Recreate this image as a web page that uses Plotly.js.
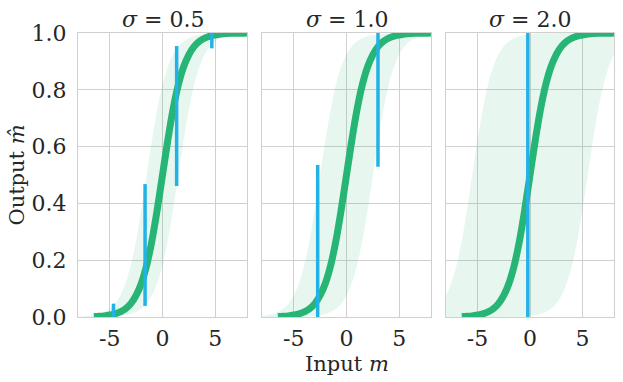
<!DOCTYPE html>
<html>
<head>
<meta charset="utf-8">
<script src="https://cdn.plot.ly/plotly-3.0.1.min.js"></script>
<style>
  html, body { margin: 0; padding: 0; background: #ffffff; }
  #chart { width: 623px; height: 382px; }
</style>
</head>
<body>
<div id="chart"></div>
<script>
// ---- data ----
const panelTitles = ["<i>σ</i> = 0.5", "<i>σ</i> = 1.0", "<i>σ</i> = 2.0"];
const xTitle = "Input <i>m</i>";
const yTitle = "Output <i>m\u0302</i>";

// green mean curve (same in every panel)
const curveX = [-6.5,-6,-5.5,-5,-4.5,-4,-3.5,-3,-2.5,-2,-1.5,-1,-0.5,0,0.5,1,1.5,2,2.5,3,3.5,4,4.5,5,5.5,6,6.5,7,7.5,8,8.5,9];
const curveY = [0.0015,0.0025,0.004,0.007,0.011,0.018,0.029,0.047,0.076,0.119,0.182,0.269,0.378,0.5,0.622,0.731,0.818,0.881,0.924,0.953,0.971,0.982,0.989,0.993,0.996,0.998,0.999,0.999,0.999,1.0,1.0,1.0];

// shaded band
const bandX = [-8,-7.5,-7,-6.5,-6,-5.5,-5,-4.5,-4,-3.5,-3,-2.5,-2,-1.5,-1,-0.5,0,0.5,1,1.5,2,2.5,3,3.5,4,4.5,5,5.5,6,6.5,7,7.5,8];
const bandUpper1 = [0.001,0.002,0.004,0.007,0.011,0.018,0.029,0.047,0.076,0.119,0.182,0.269,0.378,0.5,0.622,0.731,0.818,0.881,0.924,0.953,0.971,0.982,0.989,0.993,0.996,0.998,0.999,0.999,0.999,1.0,1.0,1.0,1.0];
const bandLower1 = [0,0,0,0,0.001,0.001,0.001,0.002,0.004,0.007,0.011,0.018,0.029,0.047,0.076,0.119,0.182,0.269,0.378,0.5,0.622,0.731,0.818,0.881,0.924,0.953,0.971,0.982,0.989,0.993,0.996,0.998,0.999];
const bandUpper2 = [0.004,0.007,0.011,0.018,0.029,0.047,0.076,0.119,0.182,0.269,0.378,0.5,0.622,0.731,0.818,0.881,0.924,0.953,0.971,0.982,0.989,0.993,0.996,0.998,0.999,0.999,0.999,1.0,1.0,1.0,1.0,1.0,1.0];
const bandLower2 = [0,0,0,0,0,0,0.001,0.001,0.001,0.002,0.004,0.007,0.011,0.018,0.029,0.047,0.076,0.119,0.182,0.269,0.378,0.5,0.622,0.731,0.818,0.881,0.924,0.953,0.971,0.982,0.989,0.993,0.996];
const bandUpper3 = [0.076,0.119,0.182,0.269,0.378,0.5,0.622,0.731,0.818,0.881,0.924,0.953,0.971,0.982,0.989,0.993,0.996,0.998,0.999,0.999,0.999,1.0,1.0,1.0,1.0,1.0,1.0,1.0,1.0,1.0,1.0,1.0,1.0];
const bandLower3 = [0,0,0,0,0,0,0,0,0,0,0,0,0.001,0.001,0.001,0.002,0.004,0.007,0.011,0.018,0.029,0.047,0.076,0.119,0.182,0.269,0.378,0.5,0.622,0.731,0.818,0.881,0.924];

// blue vertical segments: position, bottom, top
const segX1 = [-4.64, -1.65, 1.34, 4.67];
const segLo1 = [0.0, 0.039, 0.461, 0.946];
const segHi1 = [0.047, 0.468, 0.954, 1.0];
const segX2 = [-2.73, 2.98];
const segLo2 = [0.0, 0.529];
const segHi2 = [0.535, 1.0];
const segX3 = [-0.21];
const segLo3 = [0.0];
const segHi3 = [1.0];

const xTickVals = [-5, 0, 5];
const xTickText = ["-5", "0", "5"];
const yTickVals = [0, 0.2, 0.4, 0.6, 0.8, 1.0];
const yTickText = ["0.0", "0.2", "0.4", "0.6", "0.8", "1.0"];

// ---- styling ----
const GREEN = "#26b574";
const BLUE = "#22b2e6";
const BAND = "rgba(38,181,116,0.11)";
const GRID = "#d0d0d0";
const FONT = "DejaVu Serif, serif";
const TXT = "#262626";

function segTrace(xs, lo, hi, xa, ya) {
  const x = [], y = [];
  for (let i = 0; i < xs.length; i++) {
    x.push(xs[i], xs[i], null);
    y.push(lo[i], hi[i], null);
  }
  return {x, y, xaxis: xa, yaxis: ya, mode: "lines", type: "scatter",
          line: {color: BLUE, width: 3.5}, hoverinfo: "skip", showlegend: false};
}

const bands = [[bandLower1, bandUpper1], [bandLower2, bandUpper2], [bandLower3, bandUpper3]];
const segs = [[segX1, segLo1, segHi1], [segX2, segLo2, segHi2], [segX3, segLo3, segHi3]];
const traces = [];
for (let p = 0; p < 3; p++) {
  const xa = p === 0 ? "x" : "x" + (p + 1);
  const ya = p === 0 ? "y" : "y" + (p + 1);
  traces.push({x: bandX, y: bands[p][0], xaxis: xa, yaxis: ya, mode: "lines", type: "scatter",
               line: {width: 0, shape: "spline", color: "rgba(0,0,0,0)"}, hoverinfo: "skip", showlegend: false});
  traces.push({x: bandX, y: bands[p][1], xaxis: xa, yaxis: ya, mode: "lines", type: "scatter",
               fill: "tonexty", fillcolor: BAND,
               line: {width: 0, shape: "spline", color: "rgba(0,0,0,0)"}, hoverinfo: "skip", showlegend: false});
  traces.push({x: curveX, y: curveY, xaxis: xa, yaxis: ya, mode: "lines", type: "scatter",
               line: {color: GREEN, width: 7, shape: "spline"}, hoverinfo: "skip", showlegend: false});
  traces.push(segTrace(segs[p][0], segs[p][1], segs[p][2], xa, ya));
}

const doms = [[0, 0.3153], [0.3433, 0.6586], [0.6866, 1]];
function xaxis(i) {
  return {
    domain: doms[i], range: [-8, 8], anchor: i === 0 ? "y" : "y" + (i + 1),
    tickmode: "array", tickvals: xTickVals, ticktext: xTickText,
    showgrid: true, gridcolor: GRID, gridwidth: 1, zeroline: false,
    showline: true, linecolor: GRID, linewidth: 1.2, mirror: true,
    ticks: "", ticklabelstandoff: 1,
    tickfont: {family: FONT, size: 22, color: TXT}
  };
}
function yaxis(i) {
  const a = {
    domain: [0, 1], range: [0, 1], anchor: i === 0 ? "x" : "x" + (i + 1),
    tickmode: "array", tickvals: yTickVals, ticktext: yTickText,
    showgrid: true, gridcolor: GRID, gridwidth: 1, zeroline: false,
    showline: true, linecolor: GRID, linewidth: 1.2, mirror: true,
    ticks: "", showticklabels: i === 0, ticklabelstandoff: 6,
    tickfont: {family: FONT, size: 22, color: TXT}
  };
  if (i === 0) a.title = {text: yTitle, font: {family: FONT, size: 21, color: TXT}, standoff: 1};
  if (i > 0) a.matches = "y";
  return a;
}

const annotations = panelTitles.map((t, i) => ({
  text: t, xref: "paper", yref: "paper",
  x: (doms[i][0] + doms[i][1]) / 2, xanchor: "center", y: 1, yanchor: "bottom", yshift: -1,
  showarrow: false, font: {family: FONT, size: 22, color: TXT}
}));
annotations.push({
  text: xTitle, xref: "paper", yref: "paper",
  x: (doms[1][0] + doms[1][1]) / 2, xanchor: "center", y: 0, yanchor: "top", yshift: -33,
  showarrow: false, font: {family: FONT, size: 21, color: TXT}
});

const layout = {
  width: 623, height: 382,
  margin: {l: 78, r: 9, t: 33, b: 65},
  paper_bgcolor: "#ffffff", plot_bgcolor: "#ffffff",
  showlegend: false,
  xaxis: xaxis(0), xaxis2: xaxis(1), xaxis3: xaxis(2),
  yaxis: yaxis(0), yaxis2: yaxis(1), yaxis3: yaxis(2),
  annotations: annotations,
  font: {family: FONT}
};

Plotly.newPlot("chart", traces, layout, {displayModeBar: false, staticPlot: true});
</script>
</body>
</html>
